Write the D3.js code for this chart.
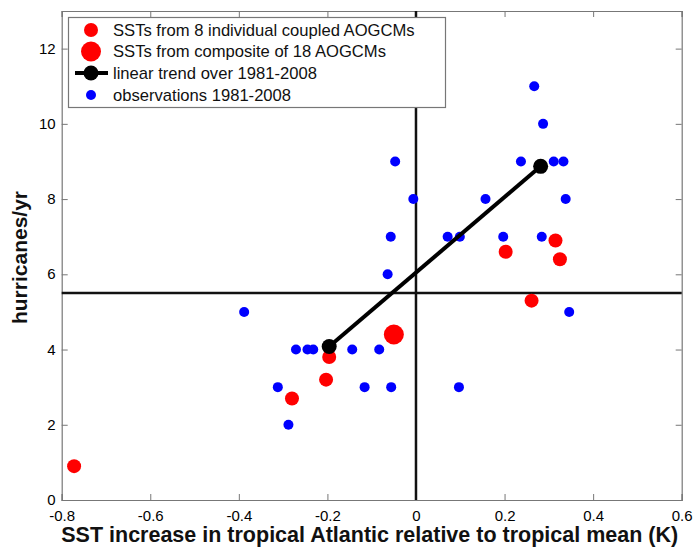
<!DOCTYPE html>
<html><head><meta charset="utf-8">
<script src="https://cdn.jsdelivr.net/npm/d3@7"></script>
<style>body{margin:0;background:#fff}svg{display:block;font-family:"Liberation Sans",Arial,sans-serif}</style>
</head><body>
<svg id="c" width="697" height="549"></svg>
<script>
// observations 1981-2008 [SST anomaly (K), hurricanes/yr]
const obsX = [0.267,0.287,0.237,0.311,0.333,-0.047,-0.006,0.157,0.338,0.0715,0.099,0.197,0.284,-0.057,-0.064,-0.388,0.346,-0.271,-0.245,-0.232,-0.144,-0.083,-0.312,-0.116,-0.056,0.097,-0.288];
const obsY = [11,10,9,9,9,9,8,8,8,7,7,7,7,7,6,5,5,4,4,4,4,4,3,3,3,3,2];
// individual AOGCMs
const modX = [-0.772,-0.28,-0.203,-0.196,0.2025,0.315,0.325,0.261];
const modY = [0.9,2.7,3.2,3.8,6.6,6.9,6.4,5.3];
// composite of 18 AOGCMs
const compX = [-0.05];
const compY = [4.4];
// linear trend endpoints
const trendX = [-0.196,0.2815];
const trendY = [4.08,8.87];
const xTicks = [-0.8,-0.6,-0.4,-0.2,0,0.2,0.4,0.6];
const yTicks = [0,2,4,6,8,10,12];
const xTickLabels = ["-0.8","-0.6","-0.4","-0.2","0","0.2","0.4","0.6"];
const yTickLabels = ["0","2","4","6","8","10","12"];
const legendLabels = ["SSTs from 8 individual coupled AOGCMs","SSTs from composite of 18 AOGCMs","linear trend over 1981-2008","observations 1981-2008"];
const refX = 0, refY = 5.5;

const svg = d3.select("#c");
const L=61.7, R=681.7, T=11, B=500;
const x = d3.scaleLinear().domain([-0.8,0.6]).range([L,R]);
const y = d3.scaleLinear().domain([0,13]).range([B,T]);
const axisCol="#777";

const gx = svg.append("g").attr("transform",`translate(0,${B})`)
  .call(d3.axisBottom(x).tickValues(xTicks).tickSize(-6).tickPadding(10).tickFormat((d,i)=>xTickLabels[i]));
const gxt = svg.append("g").attr("transform",`translate(0,${T})`)
  .call(d3.axisTop(x).tickValues(xTicks).tickSize(-6).tickFormat(""));
const gy = svg.append("g").attr("transform",`translate(${L},0)`)
  .call(d3.axisLeft(y).tickValues(yTicks).tickSize(-6).tickPadding(6).tickFormat((d,i)=>yTickLabels[i]));
const gyr = svg.append("g").attr("transform",`translate(${R},0)`)
  .call(d3.axisRight(y).tickValues(yTicks).tickSize(-6).tickFormat(""));
[gx,gxt,gy,gyr].forEach(g=>{
  g.select(".domain").attr("stroke",axisCol).attr("stroke-width",1.2);
  g.selectAll(".tick line").attr("stroke",axisCol);
  g.selectAll("text").attr("fill","#000").style("font-size","15px");
});
gy.selectAll("text").attr("dy","0.3em");

// reference lines
svg.append("line").attr("x1",x(refX)).attr("x2",x(refX)).attr("y1",y(13)).attr("y2",y(0))
  .attr("stroke","#111").attr("stroke-width",2.5);
svg.append("line").attr("x1",x(-0.8)).attr("x2",x(0.6)).attr("y1",y(refY)).attr("y2",y(refY))
  .attr("stroke","#111").attr("stroke-width",2.5);

// observations
svg.append("g").selectAll("circle").data(obsX.map((d,i)=>[d,obsY[i]])).join("circle")
  .attr("cx",d=>x(d[0])).attr("cy",d=>y(d[1])).attr("r",5).attr("fill","#0000ff");
// models
svg.append("g").selectAll("circle").data(modX.map((d,i)=>[d,modY[i]])).join("circle")
  .attr("cx",d=>x(d[0])).attr("cy",d=>y(d[1])).attr("r",7).attr("fill","#ff0000");
svg.append("g").selectAll("circle").data(compX.map((d,i)=>[d,compY[i]])).join("circle")
  .attr("cx",d=>x(d[0])).attr("cy",d=>y(d[1])).attr("r",10).attr("fill","#ff0000");
// trend
const tr = trendX.map((d,i)=>[d,trendY[i]]);
svg.append("path").datum(tr).attr("d",d3.line().x(d=>x(d[0])).y(d=>y(d[1])))
  .attr("stroke","#000").attr("stroke-width",4).attr("fill","none");
svg.append("g").selectAll("circle").data(tr).join("circle")
  .attr("cx",d=>x(d[0])).attr("cy",d=>y(d[1])).attr("r",7.5).attr("fill","#000");

// legend
const lg = svg.append("g");
lg.append("rect").attr("x",68.5).attr("y",17.5).attr("width",377).attr("height",90)
  .attr("fill","#fff").attr("stroke",axisCol).attr("stroke-width",1.2);
const ly=[30,51.5,73,95];
lg.append("circle").attr("cx",91).attr("cy",ly[0]).attr("r",7).attr("fill","#ff0000");
lg.append("circle").attr("cx",91).attr("cy",ly[1]).attr("r",10).attr("fill","#ff0000");
lg.append("line").attr("x1",75).attr("x2",108).attr("y1",ly[2]).attr("y2",ly[2]).attr("stroke","#000").attr("stroke-width",4);
lg.append("circle").attr("cx",91).attr("cy",ly[2]).attr("r",7.5).attr("fill","#000");
lg.append("circle").attr("cx",91).attr("cy",ly[3]).attr("r",5).attr("fill","#0000ff");
lg.selectAll("text").data(legendLabels).join("text")
  .attr("x",113).attr("y",(d,i)=>ly[i]).attr("dy","0.36em").style("font-size","16.6px").attr("fill","#111").text(d=>d);

// axis titles
svg.append("text").attr("x",(L+R)/2 - 2).attr("y",542).attr("text-anchor","middle")
  .style("font-size","21.5px").style("font-weight","bold").attr("fill","#111")
  .text("SST increase in tropical Atlantic relative to tropical mean (K)");
svg.append("text").attr("transform",`translate(27,${(T+B)/2 + 2}) rotate(-90)`).attr("text-anchor","middle")
  .style("font-size","21px").style("font-weight","bold").attr("fill","#111").text("hurricanes/yr");
</script>
</body></html>
